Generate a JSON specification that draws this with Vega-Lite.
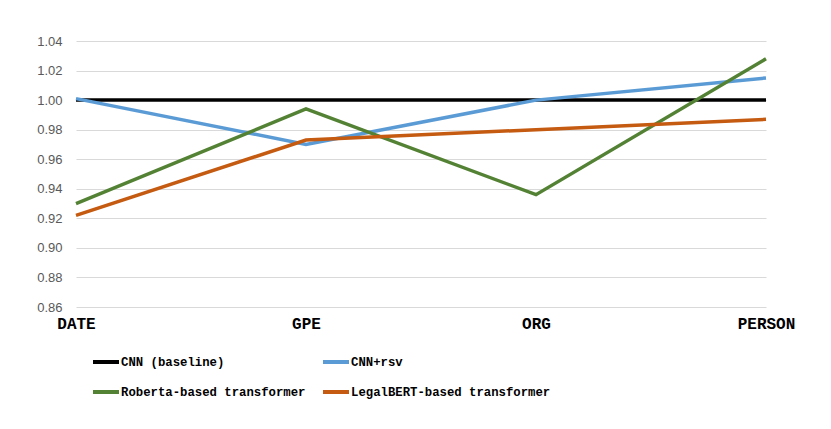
{
  "$schema": "https://vega.github.io/schema/vega-lite/v6.json",
  "width": 690,
  "height": 266,
  "autosize": {"type": "none"},
  "padding": {"left": 76, "top": 41, "right": 65, "bottom": 122},
  "background": "white",
  "data": {
    "values": [
      {"entity": "DATE", "model": "CNN (baseline)", "ratio": 1.0},
      {"entity": "GPE", "model": "CNN (baseline)", "ratio": 1.0},
      {"entity": "ORG", "model": "CNN (baseline)", "ratio": 1.0},
      {"entity": "PERSON", "model": "CNN (baseline)", "ratio": 1.0},
      {"entity": "DATE", "model": "CNN+rsv", "ratio": 1.001},
      {"entity": "GPE", "model": "CNN+rsv", "ratio": 0.970},
      {"entity": "ORG", "model": "CNN+rsv", "ratio": 1.0},
      {"entity": "PERSON", "model": "CNN+rsv", "ratio": 1.015},
      {"entity": "DATE", "model": "Roberta-based transformer", "ratio": 0.930},
      {"entity": "GPE", "model": "Roberta-based transformer", "ratio": 0.994},
      {"entity": "ORG", "model": "Roberta-based transformer", "ratio": 0.936},
      {"entity": "PERSON", "model": "Roberta-based transformer", "ratio": 1.028},
      {"entity": "DATE", "model": "LegalBERT-based transformer", "ratio": 0.922},
      {"entity": "GPE", "model": "LegalBERT-based transformer", "ratio": 0.973},
      {"entity": "ORG", "model": "LegalBERT-based transformer", "ratio": 0.980},
      {"entity": "PERSON", "model": "LegalBERT-based transformer", "ratio": 0.987}
    ]
  },
  "mark": {"type": "line", "strokeWidth": 3.5, "strokeCap": "butt"},
  "encoding": {
    "x": {
      "field": "entity",
      "type": "ordinal",
      "sort": ["DATE", "GPE", "ORG", "PERSON"],
      "scale": {"type": "point", "padding": 0},
      "axis": {
        "title": null,
        "domain": false,
        "ticks": false,
        "grid": false,
        "labelAngle": 0,
        "labelFont": "Liberation Mono",
        "labelFontWeight": "bold",
        "labelFontSize": 16,
        "labelColor": "#000000",
        "labelPadding": 8
      }
    },
    "y": {
      "field": "ratio",
      "type": "quantitative",
      "scale": {"domain": [0.86, 1.04], "nice": false, "zero": false},
      "axis": {
        "title": null,
        "domain": false,
        "ticks": false,
        "values": [0.86, 0.88, 0.9, 0.92, 0.94, 0.96, 0.98, 1.0, 1.02, 1.04],
        "format": ".2f",
        "gridColor": "#D9D9D9",
        "gridWidth": 1,
        "labelFont": "Liberation Sans",
        "labelFontSize": 13,
        "labelColor": "#595959",
        "labelPadding": 14
      }
    },
    "color": {
      "field": "model",
      "type": "nominal",
      "scale": {
        "domain": ["CNN (baseline)", "CNN+rsv", "Roberta-based transformer", "LegalBERT-based transformer"],
        "range": ["#000000", "#5B9BD5", "#548235", "#C55A11"]
      },
      "legend": {
        "title": null,
        "orient": "none",
        "direction": "horizontal",
        "legendX": 15,
        "legendY": 306,
        "columns": 2,
        "columnPadding": 9,
        "rowPadding": 7,
        "padding": 0,
        "symbolType": "stroke",
        "symbolSize": 676,
        "symbolStrokeWidth": 4,
        "labelOffset": 0,
        "labelFont": "Liberation Mono",
        "labelFontWeight": "bold",
        "labelFontSize": 12.3,
        "labelColor": "#000000",
        "labelLimit": 400
      }
    }
  },
  "config": {
    "view": {"stroke": null}
  }
}
